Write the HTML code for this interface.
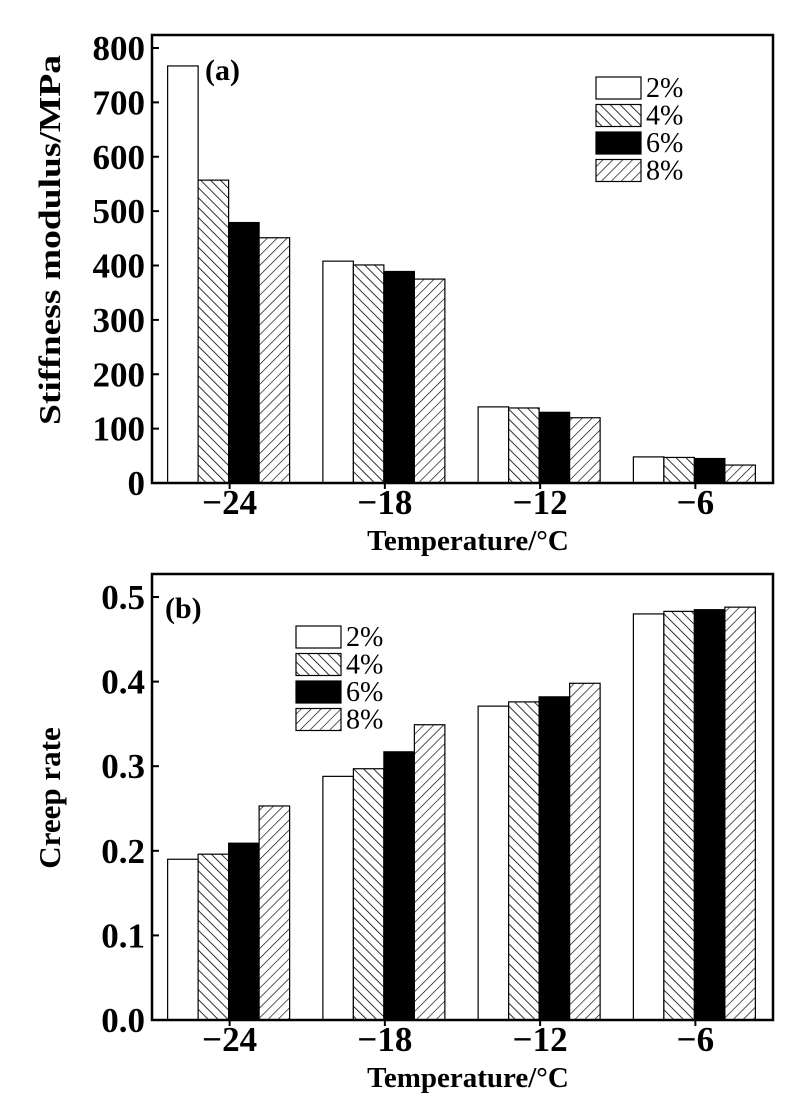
<!DOCTYPE html>
<html><head><meta charset="utf-8"><style>
html,body{margin:0;padding:0;background:#fff;}
svg{display:block;font-family:"Liberation Serif",serif;}
</style></head><body>
<svg id="fig" width="790" height="1113" viewBox="0 0 790 1113">
<defs>
<pattern id="hb" width="7" height="7" patternUnits="userSpaceOnUse" patternTransform="rotate(-45)"><rect width="7" height="7" fill="#fff"/><line x1="0" y1="0" x2="0" y2="7" stroke="#000" stroke-width="1.6"/></pattern>
<pattern id="hf" width="7" height="7" patternUnits="userSpaceOnUse" patternTransform="rotate(45)"><rect width="7" height="7" fill="#fff"/><line x1="0" y1="0" x2="0" y2="7" stroke="#000" stroke-width="1.3"/></pattern>
</defs>
<g id="ga"></g><g id="gb"></g>
</svg>
<script>
const categories = ["−24","−18","−12","−6"];
const seriesNames = ["2%","4%","6%","8%"];
const stiff2 = [767,408,140,48];
const stiff4 = [557,401,138,47];
const stiff6 = [479,389,130,45];
const stiff8 = [451,375,120,33];
const creep2 = [0.190,0.288,0.371,0.480];
const creep4 = [0.196,0.297,0.376,0.483];
const creep6 = [0.209,0.317,0.382,0.485];
const creep8 = [0.253,0.349,0.398,0.488];
const ticksA = ["0","100","200","300","400","500","600","700","800"];
const ticksB = ["0.0","0.1","0.2","0.3","0.4","0.5"];
const tickValsA = [0,100,200,300,400,500,600,700,800];
const tickValsB = [0,0.1,0.2,0.3,0.4,0.5];
const fills = ["#fff","url(#hb)","#000","url(#hf)"];
const NS="http://www.w3.org/2000/svg";
function mk(parent,tag,attrs){const e=document.createElementNS(NS,tag);for(const k in attrs)e.setAttribute(k,attrs[k]);parent.appendChild(e);return e;}
function chart(g,cfg){
  const L=152,R=773,T=cfg.top,B=cfg.bottom;
  const y=v=>B-(v-cfg.min)/(cfg.max-cfg.min)*(B-cfg.yMaxPx);
  const band=(R-L)/categories.length, bw=30.5;
  const x=(i,s)=>L+band*i+band/2-2*bw+s*bw-1;
  cfg.series.forEach((arr,s)=>arr.forEach((v,i)=>{
    const r=mk(g,'rect',{x:x(i,s),y:y(v),width:bw,height:B-y(v),fill:fills[s],stroke:'#000','stroke-width':1.2});
    
    
  }));
  const fr=mk(g,'rect',{x:L,y:T,width:R-L,height:B-T,fill:'none',stroke:'#000','stroke-width':2.5});
  
  cfg.tickVals.forEach((v,k)=>{
    mk(g,'line',{x1:L,x2:L+7,y1:y(v),y2:y(v),stroke:'#000','stroke-width':2});
    const t=mk(g,'text',{x:L-7,y:y(v)+12,'text-anchor':'end','font-size':35,'font-weight':'bold'});
    t.textContent=cfg.ticks[k];
    
  });
  categories.forEach((c,i)=>{
    const cx=L+band*i+band/2;
    mk(g,'line',{x1:cx,x2:cx,y1:B,y2:B+6,stroke:'#000','stroke-width':2});
    const t=mk(g,'text',{x:cx,y:B+31,'text-anchor':'middle','font-size':35,'font-weight':'bold'});
    t.textContent=c;
  });
  const xt=mk(g,'text',{x:468,y:B+67,'text-anchor':'middle','font-size':29,'font-weight':'bold'});
  xt.textContent="Temperature/°C";
  const ya={x:0,y:0,'text-anchor':'middle','font-size':31,'font-weight':'bold',transform:`translate(60,${cfg.ytY}) rotate(-90)`};
  if(cfg.ytLen){ya.textLength=cfg.ytLen;ya.lengthAdjust='spacingAndGlyphs';}
  const yt=mk(g,'text',ya);
  yt.textContent=cfg.ytitle;
  const pl=mk(g,'text',{x:cfg.plX,y:cfg.plY,'font-size':30,'font-weight':'bold'});
  pl.textContent=cfg.panel;
  seriesNames.forEach((n,s)=>{
    const by=cfg.legY+s*27.5;
    const r=mk(g,'rect',{x:cfg.legX,y:by,width:45,height:22,fill:fills[s],stroke:'#000','stroke-width':1.2});
    
    const t=mk(g,'text',{x:cfg.legX+50,y:by+20,'font-size':28});
    t.textContent=n;
  });
}
chart(document.getElementById('ga'),{id:'a',top:35,bottom:483,yMaxPx:48,min:0,max:800,series:[stiff2,stiff4,stiff6,stiff8],ticks:ticksA,tickVals:tickValsA,ytitle:"Stiffness modulus/MPa",ytY:240,ytLen:370,panel:"(a)",plX:205,plY:80,legX:596,legY:77});
chart(document.getElementById('gb'),{id:'b',top:574,bottom:1020,yMaxPx:597,min:0,max:0.5,series:[creep2,creep4,creep6,creep8],ticks:ticksB,tickVals:tickValsB,ytitle:"Creep rate",ytY:798,ytLen:0,panel:"(b)",plX:165,plY:618,legX:296,legY:626});
</script>
</body></html>
